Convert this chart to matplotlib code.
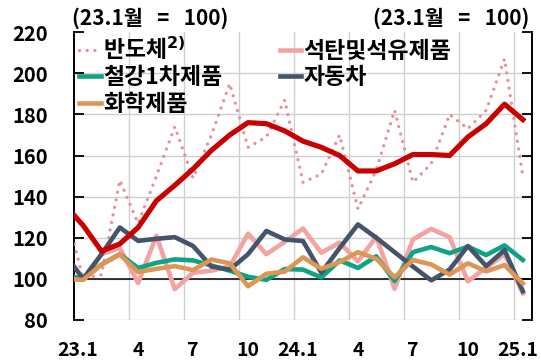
import numpy as np
import matplotlib
matplotlib.use('Agg')
import matplotlib.pyplot as plt
from matplotlib.transforms import ScaledTranslation

plt.rcParams['font.family'] = ['Noto Sans CJK KR', 'DejaVu Sans']
plt.rcParams['font.weight'] = 'bold'
plt.rcParams['mathtext.default'] = 'bf'

# 22.12 ~ 25.1 (22.12 is only partly visible at the left edge)
months = ['22.12', '23.1', '2', '3', '4', '5', '6', '7', '8', '9', '10', '11', '12',
          '24.1', '2', '3', '4', '5', '6', '7', '8', '9', '10', '11', '12', '25.1']

semi = [135, 100, 102, 148, 127, 150, 174, 149, 170, 195, 164, 169, 187,
        147, 151, 170, 134, 153, 182, 147, 156, 180, 173, 182, 207, 150]
semi_avg = [136, 126, 113.5, 117, 125, 138, 145.5, 153.5, 162.5, 170, 176, 175.5, 172,
            167, 164, 160, 152.5, 152.5, 156, 160.5, 160.5, 160, 169, 175.5, 185, 177.5]
petro = [100, 100, 112, 115, 98, 121, 95, 103, 104, 106, 122, 112, 118,
         124.5, 112.7, 117.6, 108.5, 120.5, 95.2, 119.2, 124.3, 120.3, 98.8, 105.5, 112, 93]
steel = [102, 100, 107, 112, 105.3, 107.8, 109.5, 109, 106.5, 104, 101, 99.5, 104.8,
         104.5, 100.7, 109, 105.3, 111, 99, 113, 115.5, 112.5, 115.7, 111.6, 116.3, 109.2]
auto = [112, 100, 112, 125, 118.5, 119.5, 120.3, 116, 106, 104.5, 112, 123.3, 119.2,
        118.4, 103, 115, 126.5, 120, 113, 106, 99.3, 104.5, 116, 106.2, 114, 94]
chem = [100, 99.5, 107, 111.9, 103.3, 104.9, 106.2, 104.3, 109.4, 107.6, 96.4, 102.5, 103.5,
        110.5, 104.9, 108.2, 113, 109.8, 100.8, 109.2, 107, 102.1, 107.6, 103.7, 106.7, 97.8]

tick_labels = ['23.1', '4', '7', '10', '24.1', '4', '7', '10', '25.1']

x = np.arange(len(months)) - 1

fig = plt.figure(figsize=(5.41, 3.64), dpi=100)
ax = fig.add_axes([74/541, 1-320/364, (532-74)/541, (320-32.2)/364])

l_semi, = ax.plot(x, semi, color='#EB8F98', lw=2.4, linestyle=(0, (0.01, 2.3)),
                  dash_capstyle='round', zorder=3)
l_petro, = ax.plot(x, petro, color='#F4A3A3', lw=3.3, zorder=4)
l_steel, = ax.plot(x, steel, color='#0FA383', lw=3.3, zorder=5)
l_auto, = ax.plot(x, auto, color='#44546A', lw=3.3, zorder=6)
l_chem, = ax.plot(x, chem, color='#DE9656', lw=3.3, zorder=7)
ax.plot(x, semi_avg, color='#C80000', lw=3.7, zorder=8)

ax.axhline(100, color='black', lw=1.1, zorder=2)

ax.set_xlim(-0.5, 24.5)
ax.set_ylim(80, 220)
ax.set_xticks(np.arange(0, 25, 3))
ax.set_xticklabels(tick_labels)
ax.set_xticks(np.arange(2.5, 24, 3), minor=True)
ax.set_yticks(np.arange(80, 221, 20))

ax.tick_params(axis='x', which='both', length=0, pad=15, labelsize=14)
ax.tick_params(axis='y', which='major', direction='in', right=True, length=7,
               width=1.3, pad=19, labelsize=14.5)
ax.grid(axis='x', which='minor', color='#D0D0D0', lw=1)
ax.grid(axis='y', which='major', color='#D0D0D0', lw=1)
for gl, v in zip(ax.get_ygridlines(), ax.get_yticks()):
    if v >= 220:
        gl.set_visible(False)
ax.set_axisbelow(True)

# year labels sit a little to the left
shift = ScaledTranslation(-4/72, 0, fig.dpi_scale_trans)
for lab in ax.get_xticklabels():
    if '.' in lab.get_text():
        lab.set_transform(lab.get_transform() + shift)

for s in ['top', 'bottom']:
    ax.spines[s].set_visible(False)
for s in ['left', 'right']:
    ax.spines[s].set_linewidth(1.4)

handles = [l_semi, l_steel, l_chem, l_petro, l_auto]
labels = ['반도체$^{2)}$', '철강1차제품', '화학제품', '석탄및석유제품', '자동차']
ax.legend(handles, labels, ncol=2, loc='upper left', bbox_to_anchor=(79/541, 1-35/364),
          bbox_transform=fig.transFigure, frameon=False, borderpad=0, borderaxespad=0,
          handlelength=0.95, handletextpad=0.1, columnspacing=2.5, labelspacing=0.15,
          prop={'size': 16.5, 'weight': 'bold'})

fig.text(72/541, 1-18/364, '(23.1월   =   100)', ha='left', va='center', fontsize=15, fontweight='bold')
fig.text(529/541, 1-18/364, '(23.1월   =   100)', ha='right', va='center', fontsize=15, fontweight='bold')

fig.savefig('out.png', dpi=100)
